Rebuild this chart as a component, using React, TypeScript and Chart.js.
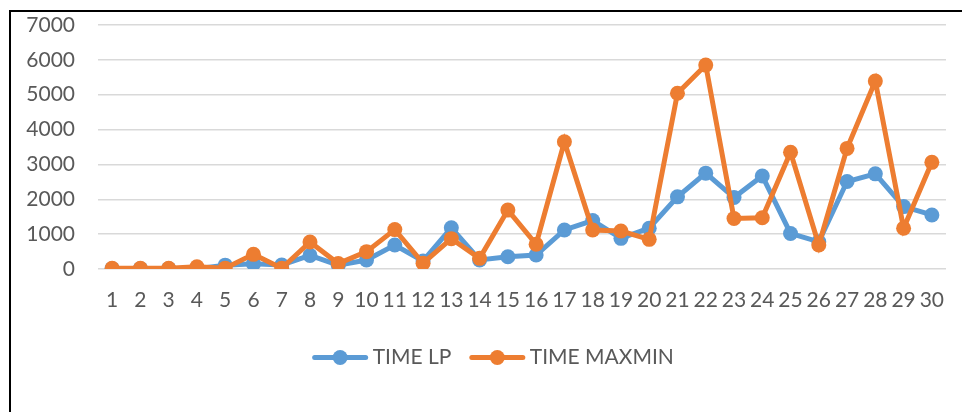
import { useEffect, useRef } from "react";
import { Chart, registerables } from "chart.js";

Chart.register(...registerables);

const categories = [
  "1", "2", "3", "4", "5", "6", "7", "8", "9", "10",
  "11", "12", "13", "14", "15", "16", "17", "18", "19", "20",
  "21", "22", "23", "24", "25", "26", "27", "28", "29", "30",
];

const timeLp = [
  10, 10, 10, 10, 110, 150, 115, 390, 110, 258,
  688, 230, 1180, 260, 350, 400, 1120, 1390, 880, 1170,
  2070, 2750, 2050, 2670, 1020, 780, 2510, 2730, 1790, 1550,
];

const timeMaxmin = [
  20, 20, 20, 65, 25, 420, 20, 775, 155, 497,
  1130, 165, 870, 305, 1690, 710, 3650, 1120, 1090, 850,
  5040, 5850, 1450, 1470, 3350, 690, 3460, 5390, 1170, 3060,
];

const yTicks = [0, 1000, 2000, 3000, 4000, 5000, 6000, 7000];

const BLUE = "#5b9bd5";
const ORANGE = "#ed7d31";
const TEXT = "#595959";
const FONT = "Lato, 'Open Sans', sans-serif";
const FONT_SIZE = 21;

// The chart frame continues past the right edge, so the legend is centred on
// the frame rather than on the canvas.
const FRAME_CENTER_X = 493;

const legendShift = {
  id: "legendShift",
  afterLayout(chart: any) {
    const legend = chart.legend;
    if (!legend) return;
    const dx = FRAME_CENTER_X - (legend.left + legend.right) / 2;
    legend.left += dx;
    legend.right += dx;
  },
};

// Draws the line-with-dot symbol in front of each legend entry.
const legendSymbols = {
  id: "legendSymbols",
  afterDraw(chart: any) {
    const legend = chart.legend;
    if (!legend || !legend.legendHitBoxes) return;
    const ctx = chart.ctx;
    legend.legendHitBoxes.forEach((hb: any, i: number) => {
      const ds = chart.data.datasets[i];
      const cy = hb.top + hb.height / 2;
      ctx.save();
      ctx.strokeStyle = ds.borderColor;
      ctx.lineWidth = 5;
      ctx.lineCap = "round";
      ctx.beginPath();
      ctx.moveTo(hb.left + 2.5, cy);
      ctx.lineTo(hb.left + 53.5, cy);
      ctx.stroke();
      ctx.fillStyle = ds.borderColor;
      ctx.beginPath();
      ctx.arc(hb.left + 28, cy, 7.5, 0, Math.PI * 2);
      ctx.fill();
      ctx.restore();
    });
  },
};

export default function App() {
  const canvasRef = useRef<HTMLCanvasElement | null>(null);

  useEffect(() => {
    const canvas = canvasRef.current;
    if (!canvas) return;
    const chart = new Chart(canvas, {
      type: "line",
      data: {
        labels: categories,
        datasets: [
          {
            label: "TIME LP",
            data: timeLp,
            borderColor: BLUE,
            backgroundColor: BLUE,
            pointBackgroundColor: BLUE,
            borderWidth: 5,
            pointRadius: 7.5,
            pointBorderWidth: 0,
            tension: 0,
            order: 1,
          },
          {
            label: "TIME MAXMIN",
            data: timeMaxmin,
            borderColor: ORANGE,
            backgroundColor: ORANGE,
            pointBackgroundColor: ORANGE,
            borderWidth: 5,
            pointRadius: 7.5,
            pointBorderWidth: 0,
            tension: 0,
            order: 0,
          },
        ],
      },
      options: {
        responsive: false,
        animation: false,
        layout: { padding: { left: 10, right: 16, top: 25, bottom: 34 } },
        plugins: {
          tooltip: { enabled: false },
          legend: {
            display: true,
            position: "bottom",
            labels: {
              boxWidth: 50,
              boxHeight: 5,
              padding: 18,
              color: TEXT,
              font: { family: FONT, size: FONT_SIZE },
              generateLabels: (c: any) =>
                c.data.datasets.map((ds: any, i: number) => ({
                  text: ds.label,
                  fillStyle: "rgba(0,0,0,0)",
                  strokeStyle: "rgba(0,0,0,0)",
                  lineWidth: 0,
                  hidden: false,
                  datasetIndex: i,
                  fontColor: TEXT,
                })),
            },
          },
        },
        scales: {
          x: {
            offset: true,
            grid: { display: false, drawTicks: false },
            border: { display: false },
            ticks: {
              color: TEXT,
              font: { family: FONT, size: FONT_SIZE },
              padding: 19,
              maxRotation: 0,
              autoSkip: false,
            },
            afterFit: (scale: any) => {
              scale.height = 60;
              scale.paddingLeft = 0;
              scale.paddingRight = 0;
            },
          },
          y: {
            min: yTicks[0],
            max: yTicks[yTicks.length - 1],
            afterBuildTicks: (scale: any) => {
              scale.ticks = yTicks.map((v) => ({ value: v }));
            },
            grid: { color: "#d9d9d9", lineWidth: 1.5, drawTicks: false },
            border: { display: false },
            ticks: {
              color: TEXT,
              font: { family: FONT, size: FONT_SIZE },
              padding: 23,
              callback: (v: any) => String(v),
            },
            afterFit: (scale: any) => {
              scale.width = 88;
              scale.paddingTop = 0;
              scale.paddingBottom = 0;
            },
          },
        },
      },
      plugins: [legendShift, legendSymbols],
    } as any);
    return () => chart.destroy();
  }, []);

  return (
    <div
      style={{
        position: "absolute",
        left: 0,
        top: 0,
        width: 962,
        height: 412,
        overflow: "hidden",
        background: "#ffffff",
      }}
    >
      <div
        style={{
          position: "absolute",
          left: 9,
          top: 10,
          width: 1000,
          height: 500,
          borderLeft: "2px solid #000",
          borderTop: "2px solid #000",
        }}
      />
      <canvas
        ref={canvasRef}
        width={962}
        height={412}
        style={{ position: "absolute", left: 0, top: 0, width: 962, height: 412 }}
      />
    </div>
  );
}
